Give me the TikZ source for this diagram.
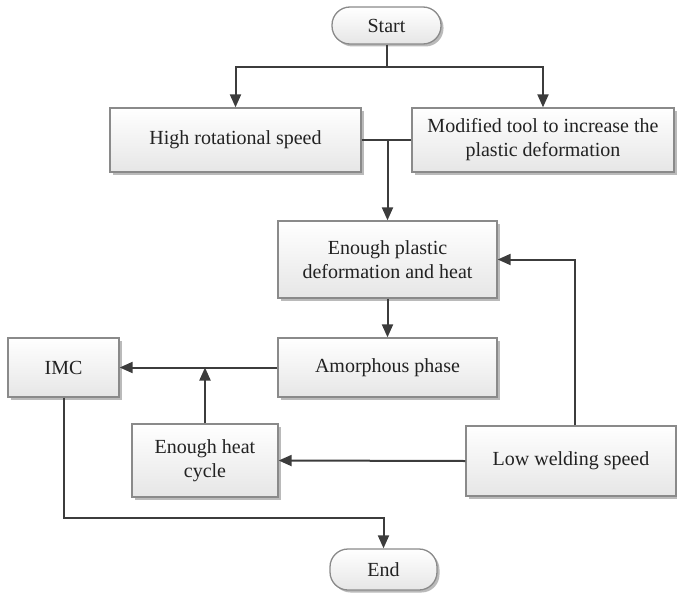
\documentclass[tikz,border=0pt]{standalone}
\usepackage{fontspec}
\setmainfont{Liberation Serif}
\usetikzlibrary{arrows.meta,shadows}
\definecolor{linegray}{HTML}{3C3C3C}
\definecolor{boxedge}{HTML}{8A8A8A}
\definecolor{boxlow}{HTML}{E6E6E6}
\definecolor{txt}{HTML}{222222}
\tikzset{
  stepbox/.style={draw=boxedge, line width=1.3pt, top color=white, bottom color=boxlow,
    drop shadow={shadow xshift=2.5pt, shadow yshift=-2.5pt, fill=black!45, opacity=0.6},
    align=center, text=txt, font=\fontsize{20}{24}\selectfont, inner sep=2pt},
  term/.style={stepbox, rounded corners=18pt},
  flow/.style={draw=linegray, line width=2pt},
  arr/.style={flow, -{Triangle[length=13pt, width=11pt]}}
}
\begin{document}
\begin{tikzpicture}[x=1pt, y=-1pt]
\useasboundingbox (0,0) rectangle (677,594);
% terminators
\node[term, minimum width=109pt, minimum height=37pt] (start) at (386.5,25.5) {Start};
\node[term, minimum width=107pt, minimum height=41pt] (end) at (383.5,569.5) {End};
% process boxes
\node[stepbox, minimum width=251pt, minimum height=64pt] (high) at (235.5,140) {High rotational speed};
\node[stepbox, minimum width=262pt, minimum height=64pt] (mod) at (543,140) {Modified tool to increase the\\plastic deformation};
\node[stepbox, minimum width=219pt, minimum height=77pt] (enough) at (387.5,259.5) {Enough plastic\\deformation and heat};
\node[stepbox, minimum width=219pt, minimum height=59pt] (amorph) at (387.5,367.5) {Amorphous phase};
\node[stepbox, minimum width=111pt, minimum height=59pt] (imc) at (63.5,367.5) {IMC};
\node[stepbox, minimum width=146pt, minimum height=73pt] (heat) at (205,460.5) {Enough heat\\cycle};
\node[stepbox, minimum width=210pt, minimum height=70pt] (low) at (571,461) {Low welding speed};
% branch points
\coordinate (split) at (386.5,67);
\coordinate (join) at (enough.north |- high.east);
\coordinate (bend) at (63.5,518);
% connectors
\draw[flow] (start.south) -- (split);
\draw[arr] (split) -| (high.north);
\draw[arr] (split) -| (mod.north);
\draw[flow] (high.east) -- (join);
\draw[flow] (mod.west) -- (join);
\draw[arr] (join) -- (enough.north);
\draw[arr] ([xshift=4pt]low.north) |- (enough.east);
\draw[arr] (enough.south) -- (amorph.north);
\draw[arr] (amorph.west) -- (imc.east);
\draw[arr] (heat.north) -- (heat.north |- amorph.west);
\draw[arr] (low.west) -- (heat.east);
\draw[arr] (imc.south) -- (bend) -| (end.north);
\end{tikzpicture}
\end{document}
